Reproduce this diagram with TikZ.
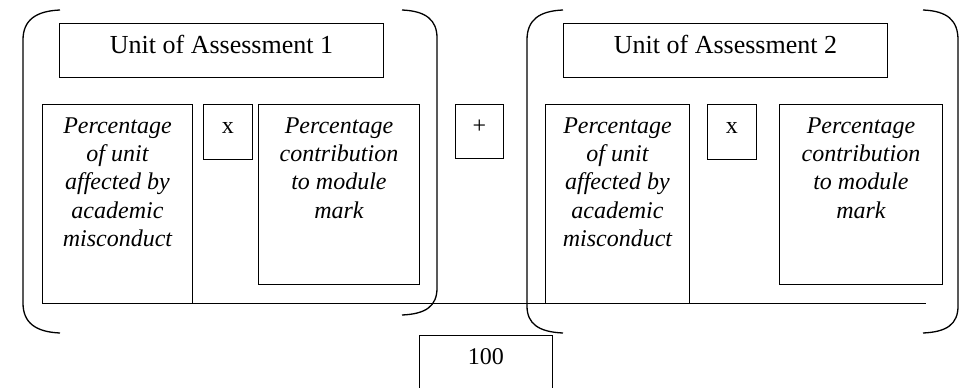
\documentclass[tikz,border=0pt]{standalone}
\usepackage{fontspec}
\setmainfont{Liberation Serif}
\begin{document}
\begin{tikzpicture}[x=1pt,y=-1pt,
  box/.style={draw, line width=0.9pt, anchor=north west, inner sep=0pt},
  body/.style={box, font=\fontsize{24}{28.3}\selectfont\itshape},
  small/.style={box, font=\fontsize{24}{28}\selectfont, text height=29pt, text depth=26pt, minimum width=49pt},
  title/.style={box, font=\fontsize{26}{30}\selectfont, text height=30pt, text depth=24pt, minimum width=324pt},
  bracket/.style={line width=1.3pt},
  bar/.style={line width=0.9pt}]
\useasboundingbox (0,0) rectangle (966,388);
% titles
\node[title] (t1) at (59,23) {Unit of Assessment 1};
\node[title] (t2) at (563,23) {Unit of Assessment 2};
% unit 1
\node[body] (a1) at (42,104) {\parbox[t][199pt][t]{150pt}{\centering\vspace*{13pt}Percentage\\of unit\\affected by\\academic\\misconduct}};
\node[small] (x1) at (203,104) {x};
\node[body] (b1) at (258,104) {\parbox[t][180pt][t]{161pt}{\centering\vspace*{13pt}Percentage\\contribution\\to module\\mark}};
% plus
\node[small, minimum width=48pt, text depth=25pt] (plus) at (455,104) {+};
% unit 2
\node[body] (a2) at (545,104) {\parbox[t][199pt][t]{144pt}{\centering\vspace*{13pt}Percentage\\of unit\\affected by\\academic\\misconduct}};
\node[small] (x2) at (707,104) {x};
\node[body] (b2) at (779,104) {\parbox[t][180pt][t]{163pt}{\centering\vspace*{13pt}Percentage\\contribution\\to module\\mark}};
% denominator
\node[small, minimum width=133pt, text depth=32pt] (hundred) at (419,335) {100};
% fraction bar
\coordinate (barL) at (57,303);
\coordinate (barR) at (926,303);
\draw[bar] (barL) -- (barR);
% brackets unit 1
\draw[bracket] (60,10) .. controls (36,11) and (23,20) .. (23,40) -- (23,303) .. controls (23,323) and (36,332) .. (60,333);
\draw[bracket] (402,10) .. controls (426,11) and (437,20) .. (437,38) -- (437,288) .. controls (437,306) and (426,314) .. (402,315);
% brackets unit 2
\draw[bracket] (563,10) .. controls (539,11) and (527,20) .. (527,40) -- (527,306) .. controls (527,324) and (539,332) .. (563,333);
\draw[bracket] (923,10) .. controls (947,11) and (958,20) .. (958,40) -- (958,306) .. controls (958,324) and (947,332) .. (923,333);
\end{tikzpicture}
\end{document}
